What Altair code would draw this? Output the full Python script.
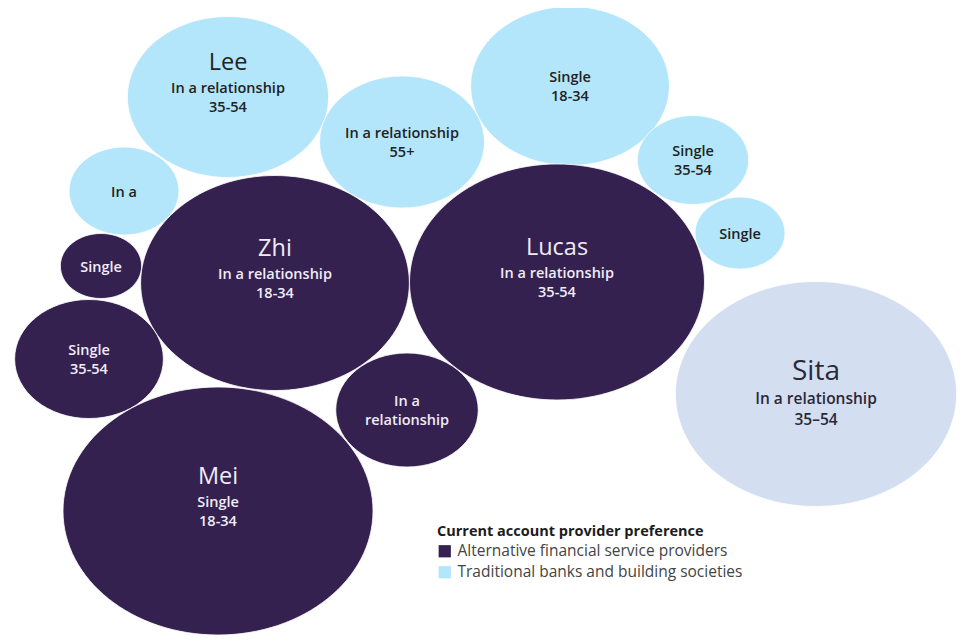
import altair as alt
import pandas as pd

# bubble layout (screen px), h = vertical diameter
names = ["Lee", "", "", "", "Zhi", "", "", "", "Lucas", "Sita", "", "", "Mei"]
line1 = ["In a relationship", "In a relationship", "In a", "Single", "In a relationship",
         "Single", "Single", "Single", "In a relationship", "In a relationship",
         "Single", "In a", "Single"]
line2 = ["35-54", "55+", "", "", "18-34", "18-34", "35-54", "", "35-54", "35\u201354",
         "35-54", "relationship", "18-34"]
groups = ["trad", "trad", "trad", "alt", "alt", "trad", "trad", "trad", "alt", "other",
          "alt", "alt", "alt"]
cx = [228, 402, 124, 101, 275, 570, 693, 740, 557, 816, 89, 407, 218]
cy = [97, 142, 191, 266, 283, 86, 160, 233, 282, 394, 359, 410, 511]
h = [161, 132, 88, 65, 215, 159, 89, 72, 236, 225, 119, 114, 248]

ALT = "Alternative financial service providers"
TRAD = "Traditional banks and building societies"
label_map = {"alt": ALT, "trad": TRAD, "other": "Other"}

df = pd.DataFrame({
    "name": names, "line1": line1, "line2": line2,
    "group": [label_map[g] for g in groups],
    "cx": cx, "cy": cy, "h": h,
})

ellipse = "M-1.25,0A1.25,1,0,1,1,1.25,0A1.25,1,0,1,1,-1.25,0Z"
FONT = "Open Sans"

xs = alt.Scale(domain=[8, 966])
ys = alt.Scale(domain=[8, 636], reverse=True)

base = alt.Chart(df).transform_calculate(
    size="datum.h * datum.h",
    big="datum.name == 'Sita'",
    tcol="datum.group == '%s' ? '#f0ecf6' : (datum.big ? '#2b2838' : '#222222')" % ALT,
    nfs="datum.big ? 28 : 23.5",
    lfs="datum.big ? 15.5 : 14.5",
    ny="datum.big ? datum.cy - 22 : datum.cy - 34",
    y1="datum.big ? datum.cy + 5 : datum.cy + (datum.line2 == '' ? 1.5 : -8)",
    y2="datum.big ? datum.cy + 26 : datum.cy + 11",
)

bubbles = base.mark_point(shape=ellipse, filled=True, opacity=1,
                          stroke="white", strokeWidth=0.8).encode(
    x=alt.X("cx:Q", scale=xs, axis=None),
    y=alt.Y("cy:Q", scale=ys, axis=None),
    size=alt.Size("size:Q", scale=None),
    color=alt.Color(
        "group:N",
        scale=alt.Scale(domain=[ALT, TRAD, "Other"],
                        range=["#35214f", "#b3e6fb", "#d3dff1"]),
        legend=alt.Legend(
            values=[ALT, TRAD],
            title="Current account provider preference",
            orient="none", legendX=429, legendY=517,
            symbolType="square", symbolSize=150, symbolStrokeWidth=0,
            titleFont=FONT, titleFontSize=14.5, titleFontWeight="bold",
            titleColor="#1c1c1c", titlePadding=4, titleLimit=0,
            labelFont=FONT, labelFontSize=15.5, labelColor="#444444",
            labelLimit=0, rowPadding=4, labelOffset=5,
        ),
    ),
)

text_enc = dict(x=alt.X("cx:Q", scale=xs), color=alt.Color("tcol:N", scale=None))

name_txt = base.transform_filter("datum.name != ''").mark_text(
    font=FONT, baseline="middle").encode(
    y=alt.Y("ny:Q", scale=ys),
    text="name:N",
    size=alt.Size("nfs:Q", scale=None),
    **text_enc,
)

l1_txt = base.mark_text(font=FONT, fontWeight=600, baseline="middle").encode(
    y=alt.Y("y1:Q", scale=ys),
    text="line1:N",
    size=alt.Size("lfs:Q", scale=None),
    **text_enc,
)

l2_txt = base.transform_filter("datum.line2 != ''").mark_text(
    font=FONT, fontWeight=600, baseline="middle").encode(
    y=alt.Y("y2:Q", scale=ys),
    text="line2:N",
    size=alt.Size("lfs:Q", scale=None),
    **text_enc,
)

chart = (bubbles + name_txt + l1_txt + l2_txt).properties(
    width=958, height=628, padding=0,
    autosize=alt.AutoSizeParams(type="none"),
).configure_view(stroke=None)

chart.save("out.html", embed_options={"renderer": "svg", "actions": False})
